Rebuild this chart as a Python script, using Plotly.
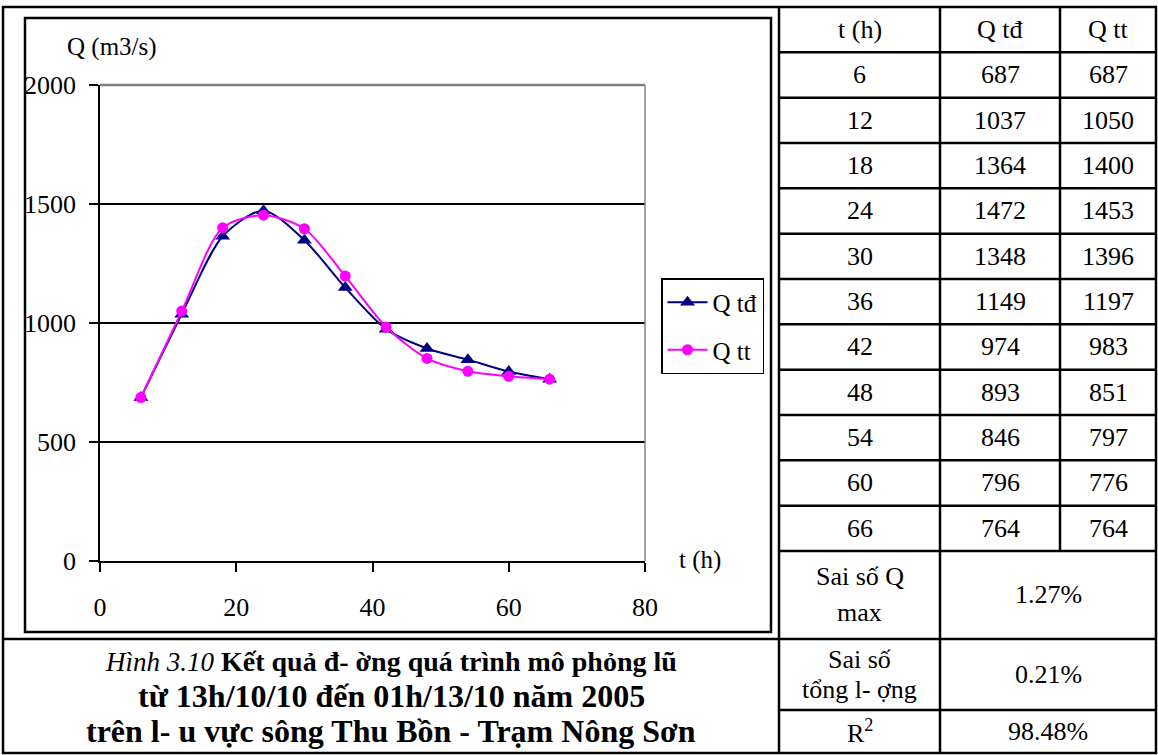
import plotly.graph_objects as go

# ---------------- data ----------------
t_hours = [6, 12, 18, 24, 30, 36, 42, 48, 54, 60, 66]
q_td = [687, 1037, 1364, 1472, 1348, 1149, 974, 893, 846, 796, 764]
q_tt = [687, 1050, 1400, 1453, 1396, 1197, 983, 851, 797, 776, 764]
x_ticks = [0, 20, 40, 60, 80]
y_ticks = [0, 500, 1000, 1500, 2000]
table_header = ["t (h)", "Q tđ", "Q tt"]
stat_labels = [["Sai số Q", "max"], ["Sai số", "tổng l- ợng"], ["R<sup>2</sup>"]]
stat_values = ["1.27%", "0.21%", "98.48%"]
caption_lines = [
    "<i><span style='font-size:27px'>Hình 3.10</span></i> <b>Kết quả đ- ờng quá trình mô phỏng lũ</b>",
    "<b>từ 13h/10/10 đến 01h/13/10 năm 2005</b>",
    "<b>trên l- u vực sông Thu Bồn - Trạm Nông Sơn</b>",
]

W, H = 1158, 755
FONT = "Liberation Serif, Times New Roman, serif"


def fx(x):
    return x / W


def fy(y):
    return 1 - y / H


fig = go.Figure()
fig.add_trace(go.Scatter(
    x=t_hours, y=q_td, name="Q tđ", mode="lines+markers", legendgroup="a",
    line=dict(color="#000080", width=2, shape="spline", smoothing=0.8),
    marker=dict(symbol="triangle-up", size=13, color="#000080"),
))
fig.add_trace(go.Scatter(
    x=t_hours, y=q_tt, name="Q tt", mode="lines+markers", legendgroup="b",
    line=dict(color="#FF00FF", width=2, shape="spline", smoothing=0.8),
    marker=dict(symbol="circle", size=11, color="#FF00FF"),
))

shapes = []


def line(x0, y0, x1, y1, w=2.5, c="black"):
    shapes.append(dict(type="line", xref="paper", yref="paper",
                       x0=fx(x0), y0=fy(y0), x1=fx(x1), y1=fy(y1),
                       line=dict(color=c, width=w)))


# table frame
TOP, BOT, LEFT, RIGHT = 7, 753, 3, 1156
C1, C2, C3 = 779, 940, 1060
ROW_H = 45.33
n_rows = len(t_hours) + 1
last_row_y = TOP + n_rows * ROW_H
Y_STAT1, Y_STAT2 = 639, 710

shapes.append(dict(type="rect", xref="paper", yref="paper",
                   x0=fx(LEFT), y0=fy(BOT), x1=fx(RIGHT), y1=fy(TOP),
                   line=dict(color="black", width=2.5)))
line(C1, TOP, C1, BOT)
line(C2, TOP, C2, BOT)
line(C3, TOP, C3, last_row_y)
for k in range(1, n_rows + 1):
    yy = TOP + k * ROW_H
    line(C1, yy, RIGHT, yy)
line(LEFT, Y_STAT1, RIGHT, Y_STAT1)
line(C1, Y_STAT2, RIGHT, Y_STAT2)

# chart area frame
shapes.append(dict(type="rect", xref="paper", yref="paper",
                   x0=fx(25), y0=fy(632), x1=fx(771), y1=fy(18),
                   line=dict(color="black", width=2.5)))
# plot area border (gray top and right)
shapes.append(dict(type="line", xref="x domain", yref="y domain",
                   x0=0, x1=1, y0=1, y1=1, line=dict(color="#808080", width=2.5)))
shapes.append(dict(type="line", xref="x domain", yref="y domain",
                   x0=1, x1=1, y0=0, y1=1, line=dict(color="#808080", width=1.5)))

annotations = []


def text(x, y, s, size=26):
    annotations.append(dict(xref="paper", yref="paper", x=fx(x), y=fy(y), text=s,
                            showarrow=False, xanchor="center", yanchor="middle",
                            font=dict(family=FONT, size=size, color="black")))


col_centers = [(C1 + C2) / 2, (C2 + C3) / 2, (C3 + RIGHT) / 2]
for j, h in enumerate(table_header):
    text(col_centers[j], TOP + ROW_H / 2, h)
for i in range(len(t_hours)):
    yc = TOP + (i + 1.5) * ROW_H
    text(col_centers[0], yc, str(t_hours[i]))
    text(col_centers[1], yc, str(q_td[i]))
    text(col_centers[2], yc, str(q_tt[i]))

stat_rows = [(last_row_y, Y_STAT1), (Y_STAT1, Y_STAT2), (Y_STAT2, BOT)]
stat_gap = [36, 30, 0]
for (a, b), lines, val, gap in zip(stat_rows, stat_labels, stat_values, stat_gap):
    mid = (a + b) / 2
    n = len(lines)
    for k, s in enumerate(lines):
        text(col_centers[0], mid + (k - (n - 1) / 2) * gap, s, size=26)
    text((C2 + RIGHT) / 2, mid, val, size=26)

caption_y = [661, 696, 731]
caption_size = [28, 32, 32]
for s, yy, sz in zip(caption_lines, caption_y, caption_size):
    text((LEFT + C1) / 2, yy, s, size=sz)

text(112, 47, "Q (m3/s)", size=25)
text(700, 560, "t (h)", size=25)

fig.update_layout(
    width=W, height=H,
    margin=dict(l=0, r=0, t=0, b=0, pad=0, autoexpand=False),
    paper_bgcolor="white", plot_bgcolor="white",
    font=dict(family=FONT, size=25, color="black"),
    shapes=shapes, annotations=annotations,
    legend=dict(x=fx(661), y=fy(278), xanchor="left", yanchor="top",
                bordercolor="black", borderwidth=1.5, bgcolor="white",
                font=dict(family=FONT, size=25), tracegroupgap=12, itemwidth=40),
    xaxis=dict(domain=[fx(100), fx(645)], range=[0, 80], tickvals=x_ticks,
               showgrid=False, zeroline=False, showline=True, linecolor="black",
               linewidth=2, ticks="outside", ticklen=9, tickwidth=1.5, tickcolor="black",
               ticklabelstandoff=13, tickfont=dict(family=FONT, size=26), automargin=False),
    yaxis=dict(domain=[fy(561), fy(85)], range=[0, 2000], tickvals=y_ticks,
               showgrid=True, gridcolor="black", gridwidth=1.5, zeroline=False,
               showline=True, linecolor="black", linewidth=1.5, ticks="outside",
               ticklen=9, tickwidth=1.5, tickcolor="black", ticklabelstandoff=8,
               tickfont=dict(family=FONT, size=26), automargin=False),
)

fig.write_html(
    "out.html",
    post_script="document.body.style.margin='0';document.body.style.overflow='hidden';",
)
